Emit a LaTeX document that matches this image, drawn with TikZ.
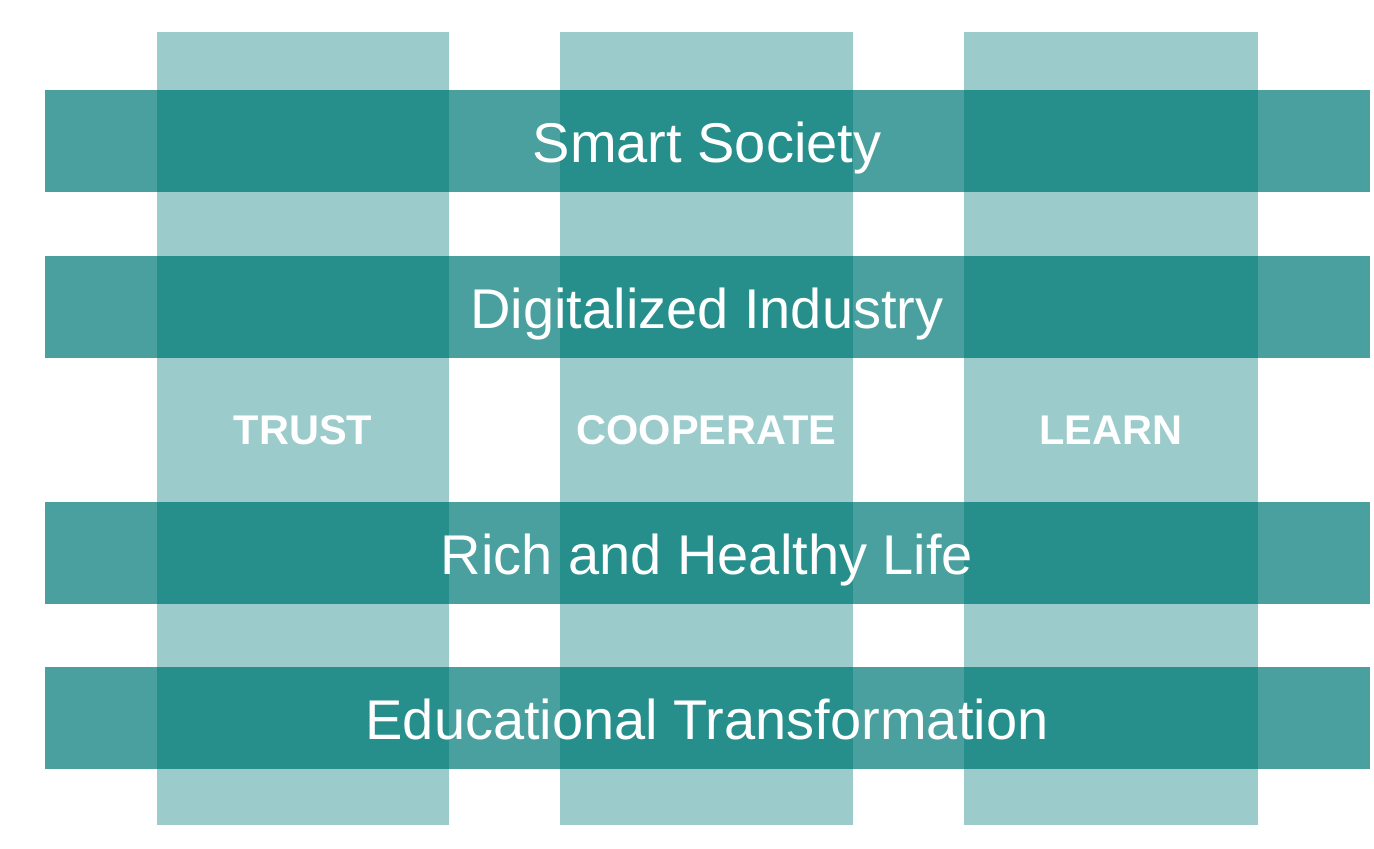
\documentclass[tikz,border=0pt]{standalone}
\usepackage{fontspec}
\setmainfont{Liberation Sans}
\definecolor{colc}{HTML}{9CCBCC}
\definecolor{bandc}{HTML}{4AA09E}
\definecolor{overc}{HTML}{268F8C}
\begin{document}
\begin{tikzpicture}[x=1pt,y=-1pt,
  column/.style={fill=colc,draw=none},
  band/.style={fill=bandc,draw=none},
  overlap/.style={fill=overc,draw=none},
  bandtext/.style={text=white,font=\fontsize{56}{60}\selectfont,anchor=base,inner sep=0pt},
  coltext/.style={text=white,font=\bfseries\fontsize{41.5}{46}\selectfont,anchor=base,inner sep=0pt}]
\useasboundingbox[fill=white] (0,0) rectangle (1374,849);
% columns
\foreach \xa/\xb in {157/449,560/853,964/1258}
  \fill[column] (\xa,32) rectangle (\xb,825);
% bands
\foreach \ya/\yb in {90/192,256/358,502/604,667/769}{
  \fill[band] (45,\ya) rectangle (1370,\yb);
  \foreach \xa/\xb in {157/449,560/853,964/1258}
    \fill[overlap] (\xa,\ya) rectangle (\xb,\yb);
}
\node[bandtext] (s1) at (707,162) {Smart Society};
\node[bandtext] (s2) at (707,328) {Digitalized Industry};
\node[bandtext] (s3) at (707,574) {Rich and Healthy Life};
\node[bandtext] (s4) at (707,739) {Educational Transformation};
\node[coltext] (c1) at (303,444) {TRUST};
\node[coltext] (c2) at (706.5,444) {COOPERATE};
\node[coltext] (c3) at (1111,444) {LEARN};
\end{tikzpicture}
\end{document}
